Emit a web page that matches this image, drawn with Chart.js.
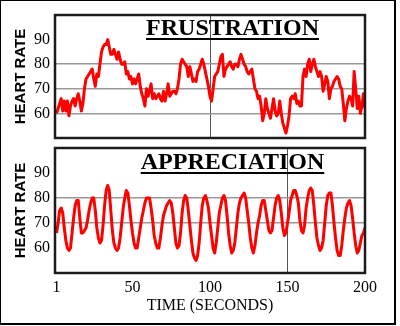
<!DOCTYPE html>
<html>
<head>
<meta charset="utf-8">
<script src="https://cdn.jsdelivr.net/npm/chart.js@4.4.1/dist/chart.umd.min.js"></script>
<style>
  html, body { margin: 0; padding: 0; background: #fff; }
  #wrap { position: relative; width: 400px; height: 326px; overflow: hidden; background: #fff; }
  #wrap canvas { position: absolute; left: 0; top: 0; }
  #edge {
    position: absolute; left: 0; top: 0; width: 393px; height: 322px;
    border: 1px solid #000; border-right-width: 2px; border-bottom-width: 2px;
    pointer-events: none;
  }
</style>
</head>
<body>
<div id="wrap">
  <canvas id="frustrationPanel" width="400" height="326"></canvas>
  <canvas id="appreciationPanel" width="400" height="326"></canvas>
  <div id="edge"></div>
</div>
<script>
// Heart rate (beats per minute), one reading per second, 200 seconds.
const frustration = [
  60, 62, 64, 66, 61, 65, 61, 65, 59, 63,
  65, 66, 63, 66, 68, 65, 61, 64, 70, 74,
  75, 76, 77, 78, 74, 71, 76, 75, 80, 85,
  87, 88, 88, 90, 87, 84, 84, 86, 84, 82,
  85, 82, 80, 80, 81, 76, 77, 74, 75, 72,
  74, 72, 74, 76, 71, 68, 66, 63, 70, 67,
  69, 72, 66, 68, 66, 67, 68, 66, 65, 69,
  65, 68, 72, 67, 68, 69, 69, 68, 70, 74,
  80, 82, 81, 80, 79, 75, 79, 76, 73, 74,
  73, 77, 78, 80, 82, 80, 77, 74, 71, 67,
  65, 70, 75, 76, 77, 80, 83, 84, 75, 78,
  79, 80, 81, 79, 78, 80, 80, 79, 82, 84,
  82, 80, 79, 77, 76, 77, 78, 74, 70, 69,
  66, 67, 63, 57, 60, 66, 62, 60, 58, 62,
  66, 61, 59, 60, 65, 60, 56, 54, 52, 55,
  59, 66, 67, 66, 68, 64, 65, 63, 63, 75,
  78, 75, 80, 82, 77, 80, 82, 79, 77, 75,
  77, 75, 69, 72, 75, 73, 66, 70, 71, 73,
  74, 75, 74, 71, 70, 64, 57, 62, 65, 67,
  66, 63, 77, 70, 62, 67, 60, 63, 68, 62
];

const appreciation = [
  66, 70, 75, 76, 74, 68, 63, 60, 59, 60,
  66, 72, 77, 79, 79, 72, 66, 66, 67, 68,
  71, 75, 78, 80, 80, 75, 68, 64, 62, 63,
  69, 77, 83, 85, 83, 75, 67, 62, 60, 59,
  60, 64, 70, 76, 80, 83, 82, 77, 71, 66,
  62, 60, 60, 64, 68, 72, 75, 78, 80, 80,
  80, 76, 71, 65, 62, 60, 60, 64, 69, 73,
  75, 77, 78, 79, 78, 74, 68, 62, 60, 61,
  66, 74, 79, 81, 80, 75, 69, 63, 58, 56,
  55, 57, 62, 70, 77, 80, 81, 79, 76, 70,
  65, 60, 58, 62, 68, 74, 77, 80, 81, 79,
  73, 66, 61, 58, 59, 62, 68, 74, 78, 80,
  81, 82, 80, 75, 70, 64, 60, 58, 61, 66,
  70, 73, 77, 79, 79, 75, 71, 67, 66, 67,
  72, 77, 80, 81, 79, 74, 68, 65, 66, 70,
  74, 79, 81, 83, 83, 81, 78, 71, 67, 66,
  69, 76, 80, 83, 84, 83, 77, 70, 64, 61,
  59, 60, 63, 70, 77, 81, 82, 82, 77, 70,
  64, 59, 57, 57, 61, 67, 72, 76, 78, 79,
  77, 72, 66, 61, 58, 59, 62, 65, 66, 68
];

const seconds = frustration.map((_, i) => i + 1);
const timeTicks = [1, 50, 100, 150, 200];
const rateTicks = [60, 70, 80, 90];

const SERIF = '"Liberation Serif", "Times New Roman", Times, serif';
const SANS = '"Liberation Sans", Arial, Helvetica, sans-serif';

// Frame around the plot area plus the underlined panel heading.
const panelDecor = {
  id: 'panelDecor',
  afterDatasetsDraw(chart, args, o) {
    const { ctx, chartArea: a } = chart;
    ctx.save();
    ctx.lineWidth = 2.5;
    ctx.strokeStyle = '#1c1c1c';
    ctx.strokeRect(a.left, a.top, a.right - a.left, a.bottom - a.top);
    ctx.font = 'bold 24px ' + SERIF;
    ctx.fillStyle = '#000';
    ctx.textAlign = 'center';
    ctx.textBaseline = 'alphabetic';
    const cx = a.left + (a.right - a.left) * o.center;
    const by = a.top + o.baseline;
    ctx.fillText(o.text, cx, by);
    const w = ctx.measureText(o.text).width;
    ctx.fillRect(cx - w / 2, by + 3, w, 2);
    ctx.restore();
  }
};

function makePanel(canvasId, values, cfg) {
  return new Chart(document.getElementById(canvasId), {
    type: 'line',
    data: {
      datasets: [{
        data: seconds.map((s, i) => ({ x: s, y: values[i] })),
        borderColor: '#ff0000',
        borderWidth: 3,
        borderJoinStyle: 'round',
        pointRadius: 0,
        tension: 0,
        fill: false
      }]
    },
    options: {
      responsive: false,
      animation: false,
      devicePixelRatio: 1,
      layout: { padding: cfg.padding },
      plugins: {
        legend: { display: false },
        tooltip: { enabled: false },
        panelDecor: { text: cfg.heading, center: 0.5726, baseline: cfg.baseline }
      },
      scales: {
        x: {
          type: 'linear',
          min: 0,
          max: 200,
          afterBuildTicks: s => { s.ticks = timeTicks.map(v => ({ value: v })); },
          afterFit: s => { s.height = cfg.showTime ? 53 : 0; },
          ticks: {
            display: cfg.showTime,
            color: '#000',
            padding: 5,
            maxRotation: 0,
            autoSkip: false,
            font: { family: SERIF, size: 16 }
          },
          grid: {
            drawTicks: false,
            lineWidth: 1,
            color: c => (c.tick && c.tick.value === cfg.markSecond) ? '#555' : 'rgba(0,0,0,0)'
          },
          border: { display: false },
          title: {
            display: cfg.showTime,
            text: 'TIME (SECONDS)',
            color: '#000',
            font: { family: SERIF, size: 16 },
            padding: { top: 0, bottom: 11 }
          }
        },
        y: {
          min: 50,
          max: 100,
          afterBuildTicks: s => { s.ticks = rateTicks.map(v => ({ value: v })); },
          afterFit: s => { s.width = 55; },
          ticks: {
            color: '#000',
            padding: 5,
            font: { family: SERIF, size: 16 }
          },
          grid: {
            drawTicks: false,
            lineWidth: 1.5,
            color: c => (c.tick && cfg.gridRates.includes(c.tick.value)) ? '#999' : 'rgba(0,0,0,0)'
          },
          border: { display: false },
          title: {
            display: true,
            text: 'HEART RATE',
            color: '#000',
            font: { family: SANS, size: 15, weight: 'bold' },
            padding: { top: 12, bottom: 0 }
          }
        }
      }
    },
    plugins: [panelDecor]
  });
}

makePanel('frustrationPanel', frustration, {
  heading: 'FRUSTRATION',
  baseline: 20,
  padding: { top: 15, right: 35, bottom: 188, left: 0 },
  showTime: false,
  markSecond: 100,
  gridRates: [60, 70, 80]
});

makePanel('appreciationPanel', appreciation, {
  heading: 'APPRECIATION',
  baseline: 21,
  padding: { top: 148, right: 35, bottom: 0, left: 0 },
  showTime: true,
  markSecond: 150,
  gridRates: [70, 80]
});
</script>
</body>
</html>
